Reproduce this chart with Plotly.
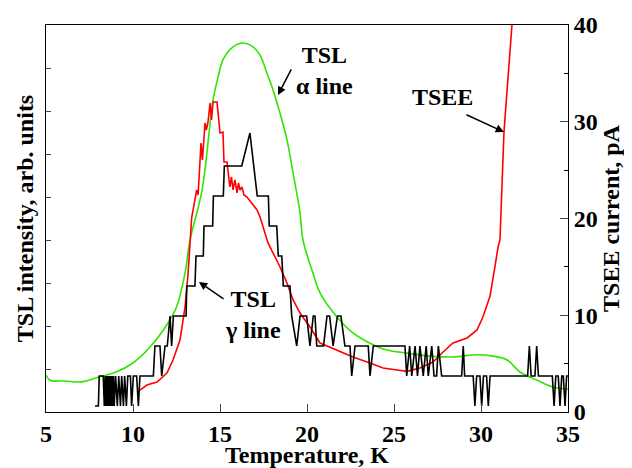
import plotly.graph_objects as go

# ---- TSL alpha line (green), left axis, arb. units ----
green_T = [5.0, 5.23, 6.09, 7.01, 7.99, 9.02, 10.0, 10.98, 12.01, 12.5, 12.99, 13.28, 13.97,
           14.6, 14.89, 15.17, 15.75, 16.32, 16.9, 17.3, 17.7, 18.05, 18.45, 18.85, 19.2, 19.6,
           19.77, 20.34, 20.75, 21.72, 22.64, 23.62, 24.6, 25.75, 27.07, 28.39, 29.77, 30.69,
           31.5, 32.24, 33.22, 34.14, 35.0]
green_I = [0.86, 0.74, 0.72, 0.70, 0.81, 0.93, 1.14, 1.51, 2.07, 2.44, 3.23, 4.0, 5.16,
           7.26, 7.79, 8.19, 8.49, 8.58, 8.49, 8.3, 7.88, 7.49, 6.95, 6.33, 5.56, 4.63,
           4.0, 3.23, 2.77, 2.21, 1.84, 1.60, 1.44, 1.37, 1.30, 1.28, 1.33, 1.30,
           1.21, 0.93, 0.74, 0.58, 0.53]

# ---- TSL gamma line (black), photon-count levels ----
black_T = [7.82, 8.01, 8.06, 8.29, 8.35, 8.40, 8.44, 8.48, 8.52, 8.56, 8.60, 8.64, 8.68, 8.72,
           8.76, 8.80, 8.84, 8.88, 8.92, 9.0, 9.1, 9.18, 9.28, 9.35, 9.45, 9.52, 9.62, 9.70,
           9.85, 9.92, 10.02, 10.21, 10.31, 10.40, 11.17, 11.26, 11.55, 11.65, 11.84, 11.97,
           12.13, 12.22, 12.32, 13.05, 13.09, 13.56, 13.62, 14.04, 14.08, 14.58, 14.62, 15.19,
           15.25, 16.25, 16.72, 17.14, 17.78, 17.83, 18.26, 18.35, 18.55, 18.64, 19.02, 19.12,
           19.41, 19.60, 19.98, 20.17, 20.36, 20.46, 20.56, 20.95, 21.15, 21.3, 21.5, 21.75,
           21.95, 22.18, 22.47, 22.57, 22.76, 23.52, 23.62, 23.81, 25.63, 25.73, 25.9, 26.02,
           26.21, 26.35, 26.49, 26.68, 26.85, 26.97, 27.17, 27.3, 27.45, 27.55, 27.74, 28.89,
           28.98, 29.06, 29.55, 29.65, 29.75, 29.94, 30.04, 30.14, 30.32, 30.42, 30.52, 32.68,
           32.78, 32.88, 33.10, 33.20, 33.30, 34.10, 34.20, 34.30, 34.44, 34.54, 34.64, 34.73,
           34.83, 34.92, 35.0]
black_N = [0, 0, 1, 1, 0, 1, 0, 1, 0, 1, 0, 1, 0, 1,
           0, 1, 0, 1, 0, 1, 0, 1, 0, 1, 0, 1, 0, 1,
           1, 0, 1, 1, 0, 1, 1, 2, 2, 1, 2, 2,
           3, 2, 3, 3, 4, 4, 5, 5, 6, 6, 7, 7,
           8, 8, 9.1, 7, 7, 6, 6, 5, 5, 4, 4, 3,
           2, 3, 3, 2, 3, 3, 2, 2, 3, 3, 2, 3,
           3, 2, 2, 1, 2, 2, 1, 2, 2, 1, 2, 1,
           2, 1, 2, 1, 2, 1, 2, 1, 1, 2, 1, 1,
           2, 1, 1, 0, 1, 1, 0, 1, 1, 0, 1, 1,
           2, 1, 1, 2, 1, 1, 0, 1, 1, 0, 1, 1,
           0, 1, 1]

# ---- TSEE current (red), right axis, pA ----
red_T = [10.40, 10.80, 11.38, 11.95, 12.30, 12.70, 12.99, 13.16, 13.37, 13.51, 13.66, 13.74,
         13.91, 13.99, 14.14, 14.22, 14.31, 14.43, 14.51, 14.60, 14.83, 14.89, 15.00, 15.17,
         15.23, 15.40, 15.46, 15.57, 15.66, 15.75, 15.86, 15.98, 16.06, 16.15, 16.26, 16.38,
         16.55, 16.72, 16.90, 17.13, 17.30, 17.47, 17.76, 18.05, 18.45, 18.85, 19.20, 19.60,
         20.17, 20.75, 21.72, 22.64, 23.62, 24.37, 25.17, 25.75, 26.49, 27.24, 27.82, 28.39,
         29.20, 29.77, 30.11, 30.52, 30.80, 30.98, 31.09, 31.32, 31.78, 31.85]
red_I = [2.27, 2.79, 3.10, 4.03, 5.37, 7.44, 10.85, 14.16, 20.05, 21.39, 22.95, 22.43,
         27.80, 26.05, 29.87, 29.15, 29.97, 31.94, 30.18, 32.04, 32.04, 30.90, 28.84, 28.94,
         25.84, 25.84, 25.01, 23.26, 24.29, 22.95, 23.98, 22.64, 23.67, 22.95, 23.26, 22.43,
         22.22, 21.81, 21.50, 20.88, 20.16, 19.12, 17.47, 16.43, 14.99, 13.33, 11.58, 10.23,
         8.79, 7.13, 6.41, 5.68, 5.06, 4.55, 4.34, 4.20, 4.55, 5.17, 6.20, 7.13,
         7.65, 8.48, 9.82, 11.99, 14.99, 17.05, 17.78, 28.94, 40.0, 42.0]

x_ticks = [5, 10, 15, 20, 25, 30, 35]
left_ticks = [1, 2, 3, 4, 5, 6, 7, 8]
right_ticks = [0, 10, 20, 30, 40]

FONT = "Times New Roman, Liberation Serif, Tinos, serif"
font_b = dict(family=FONT, size=24, color="black", weight="bold")

fig = go.Figure()
fig.add_trace(go.Scatter(x=green_T, y=green_I, mode="lines", yaxis="y",
                         line=dict(color="#2ee600", width=1.6), line_shape="spline"))
fig.add_trace(go.Scatter(x=black_T, y=black_N, mode="lines", yaxis="y3",
                         line=dict(color="black", width=1.6)))
fig.add_trace(go.Scatter(x=red_T, y=red_I, mode="lines", yaxis="y2",
                         line=dict(color="#ff0000", width=1.6)))

# the page body has an 8 px default margin, so the figure is sized to fill the rest
fig.update_layout(
    width=624, height=460,
    margin=dict(l=38, r=64, t=17, b=56),
    paper_bgcolor="white", plot_bgcolor="white",
    showlegend=False,
    font=font_b,
    xaxis=dict(range=[5, 35], tickvals=x_ticks, ticks="inside", ticklen=8, tickwidth=1,
               showline=True, linecolor="black", linewidth=1, mirror=True,
               showgrid=False, zeroline=False, tickfont=font_b,
               title=dict(text="Temperature, K", font=font_b, standoff=9),
               automargin=False),
    yaxis=dict(range=[0, 9], tickvals=left_ticks, ticks="inside", ticklen=5, tickwidth=1,
               showticklabels=False, showline=True, linecolor="black", linewidth=1,
               showgrid=False, zeroline=False,
               title=dict(text="TSL intensity, arb. units", font=font_b, standoff=4),
               automargin=False),
    yaxis2=dict(range=[0, 40], tickvals=right_ticks, ticks="inside", ticklen=8, tickwidth=1,
                overlaying="y", side="right", showline=True, linecolor="black", linewidth=1,
                showgrid=False, zeroline=False, tickfont=font_b,
                minor=dict(dtick=5, ticks="inside", ticklen=4, tickwidth=1, tickcolor="black"),
                title=dict(text="TSEE current, pA", font=font_b, standoff=2),
                automargin=False),
    yaxis3=dict(range=[-0.2, 12.7], overlaying="y", visible=False),
)

ann_font = dict(family=FONT, size=24, color="black", weight="bold")
fig.add_annotation(x=21.03, y=35.25, xref="x", yref="y2", text="TSL<br>α line",
                   showarrow=False, font=ann_font)
fig.add_annotation(x=27.76, y=32.56, xref="x", yref="y2", text="TSEE",
                   showarrow=False, font=ann_font)
fig.add_annotation(x=16.90, y=10.03, xref="x", yref="y2", text="TSL<br>γ line",
                   showarrow=False, font=ann_font)
for hx, hy, tx, ty in [(18.33, 32.76, 19.14, 35.56), (31.32, 28.94, 29.08, 30.80),
                       (13.79, 13.44, 15.29, 11.58)]:
    fig.add_annotation(x=hx, y=hy, xref="x", yref="y2", ax=tx, ay=ty, axref="x", ayref="y2",
                       text="", showarrow=True, arrowhead=2, arrowsize=1.1, arrowwidth=1.5,
                       arrowcolor="black")

fig.write_html("out.html")
